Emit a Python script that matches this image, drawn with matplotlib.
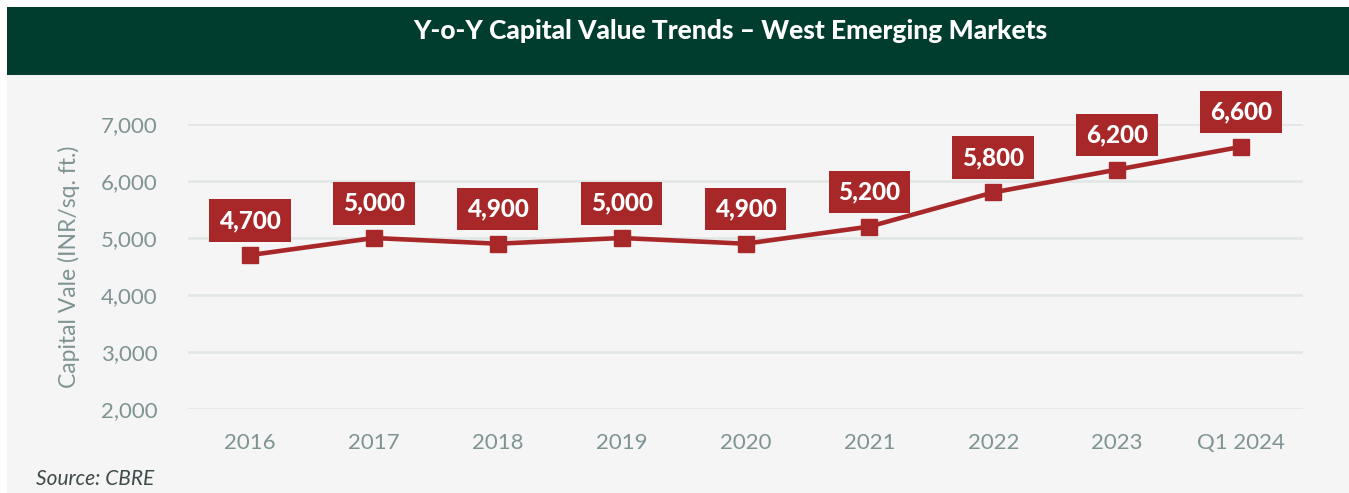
import matplotlib.pyplot as plt
from matplotlib.patches import Rectangle

categories = ["2016", "2017", "2018", "2019", "2020", "2021", "2022", "2023", "Q1 2024"]
capital_values = [4700, 5000, 4900, 5000, 4900, 5200, 5800, 6200, 6600]
y_ticks = [2000, 3000, 4000, 5000, 6000, 7000]

RED = "#A8282A"
GREEN = "#003D2E"
TICK_GREY = "#7F9393"
GRID = "#E2E7E5"
BG = "#F5F5F5"

plt.rcParams["font.family"] = ["Lato", "DejaVu Sans"]

fig = plt.figure(figsize=(13.49, 4.93), dpi=100)
fig.patch.set_facecolor("white")

# background panels
fig.add_artist(Rectangle((7 / 1349, 0), 1 - 7 / 1349, 1 - 75 / 493,
                         transform=fig.transFigure, facecolor=BG, edgecolor="none", zorder=0))
fig.add_artist(Rectangle((7 / 1349, 1 - 75 / 493), 1 - 7 / 1349, (75 - 7) / 493,
                         transform=fig.transFigure, facecolor=GREEN, edgecolor="none", zorder=0))
fig.text(730 / 1349, 1 - 31 / 493, "Y-o-Y Capital Value Trends \u2013 West Emerging Markets",
         color="white", fontsize=19, fontweight="black", ha="center", va="center")

ax = fig.add_axes([188 / 1349, 84 / 493, (1303 - 188) / 1349, (409 - 124) / 493])
ax.set_facecolor("none")
x = list(range(len(categories)))
ax.plot(x, capital_values, color=RED, lw=3.3, marker="s", markersize=11, zorder=3)

for xi, val in zip(x, capital_values):
    ax.annotate(f"{val:,}", (xi, val), xytext=(0, 25), textcoords="offset points",
                ha="center", va="center", color="white", fontsize=17.5, fontweight="black",
                bbox=dict(boxstyle="square,pad=0.4", facecolor=RED, edgecolor="none"),
                zorder=4, annotation_clip=False)

ax.set_xlim(-0.5, len(categories) - 0.5)
ax.set_ylim(2000, 7000)
ax.set_yticks(y_ticks)
ax.set_yticklabels([f"{t:,}" for t in y_ticks])
ax.set_xticks(x)
ax.set_xticklabels(categories)
ax.grid(axis="y", color=GRID, lw=2)
ax.set_axisbelow(True)
for s in ax.spines.values():
    s.set_visible(False)
ax.tick_params(axis="both", length=0, labelsize=16, colors=TICK_GREY)
ax.tick_params(axis="y", pad=22)
ax.tick_params(axis="x", pad=17)
ax.set_ylabel("Capital Vale (INR/sq. ft.)", color=TICK_GREY, fontsize=16.5)
ax.yaxis.set_label_coords(-0.097, 0.5)

fig.text(36 / 1349, 1 - 479 / 493, "Source: CBRE", color="#3F4A4A", fontsize=15,
         style="italic", ha="left", va="center")

fig.savefig("out.png", dpi=100, facecolor=fig.get_facecolor())
